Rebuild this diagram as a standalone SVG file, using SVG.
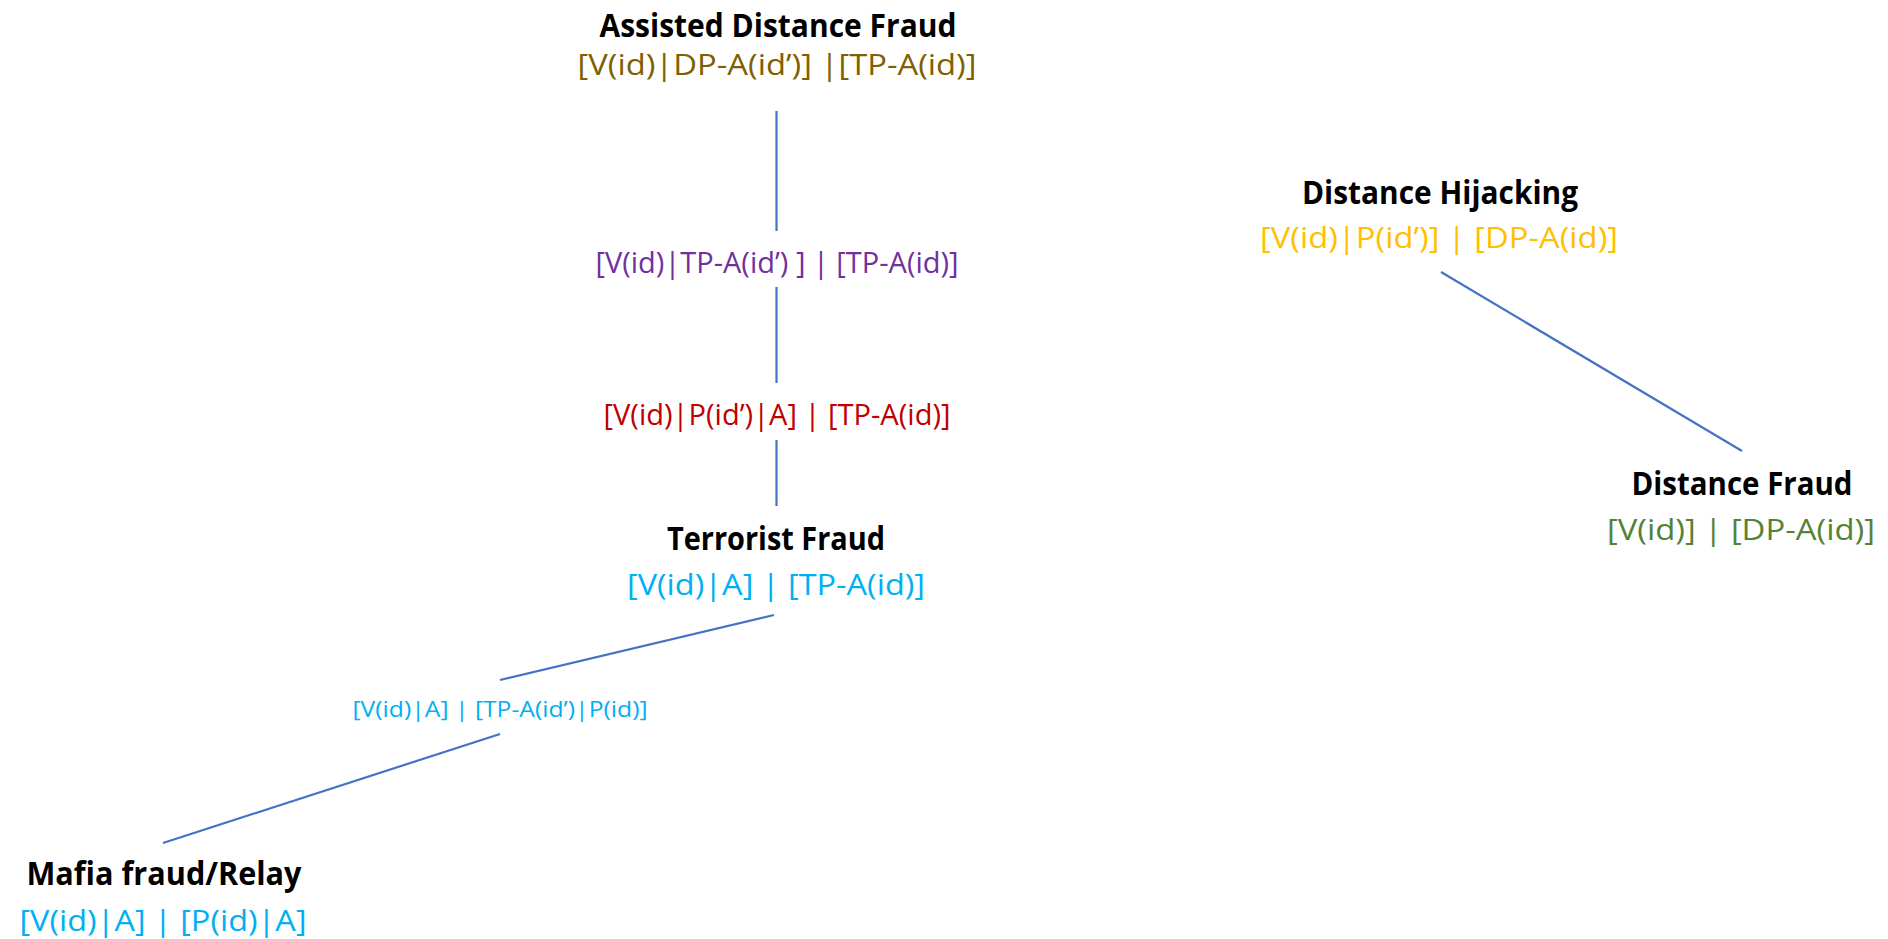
<svg xmlns="http://www.w3.org/2000/svg" width="1888" height="939" viewBox="0 0 1888 939">
<style>
text{font-family:"Open Sans","Liberation Sans",sans-serif;text-anchor:middle}
.t{font-weight:bold;font-size:32px;fill:#000}
.l{font-size:30px}
.s{font-size:22px}
.c line{stroke:#4472C4;stroke-width:2.2}
</style>
<rect width="1888" height="939" fill="#fff"/>
<g class="c" id="connectors">
<line x1="776.5" y1="111" x2="776.5" y2="231"/>
<line x1="776.5" y1="287" x2="776.5" y2="383"/>
<line x1="776.5" y1="440" x2="776.5" y2="506"/>
<line x1="774" y1="615" x2="500" y2="680"/>
<line x1="500" y1="734" x2="163" y2="843"/>
<line x1="1441" y1="272" x2="1742" y2="451"/>
</g>
<g id="assisted-distance-fraud">
<text class="t" x="778" y="37" textLength="357" lengthAdjust="spacingAndGlyphs">Assisted Distance Fraud</text>
<text class="l" x="777" y="75" fill="#7F6000" textLength="399" lengthAdjust="spacingAndGlyphs">[V(id)|DP-A(id’)] |[TP-A(id)]</text>
</g>
<g id="label-purple">
<text class="l" x="777" y="273" fill="#7030A0" textLength="363" lengthAdjust="spacingAndGlyphs">[V(id)|TP-A(id’) ] | [TP-A(id)]</text>
</g>
<g id="label-red">
<text class="l" x="777" y="425" fill="#C00000" textLength="347" lengthAdjust="spacingAndGlyphs">[V(id)|P(id’)|A] | [TP-A(id)]</text>
</g>
<g id="terrorist-fraud">
<text class="t" x="776" y="550" textLength="218" lengthAdjust="spacingAndGlyphs">Terrorist Fraud</text>
<text class="l" x="776" y="595" fill="#00B0F0" textLength="298" lengthAdjust="spacingAndGlyphs">[V(id)|A] | [TP-A(id)]</text>
</g>
<g id="label-small">
<text class="s" x="500" y="717" fill="#00B0F0" textLength="295" lengthAdjust="spacingAndGlyphs">[V(id)|A] | [TP-A(id’)|P(id)]</text>
</g>
<g id="mafia-fraud">
<text class="t" x="164" y="885" textLength="275" lengthAdjust="spacingAndGlyphs">Mafia fraud/Relay</text>
<text class="l" x="163" y="931" fill="#00B0F0" textLength="287" lengthAdjust="spacingAndGlyphs">[V(id)|A] | [P(id)|A]</text>
</g>
<g id="distance-hijacking">
<text class="t" x="1440" y="204" textLength="276" lengthAdjust="spacingAndGlyphs">Distance Hijacking</text>
<text class="l" x="1439" y="248" fill="#FFC000" textLength="358" lengthAdjust="spacingAndGlyphs">[V(id)|P(id’)] | [DP-A(id)]</text>
</g>
<g id="distance-fraud">
<text class="t" x="1742" y="495" textLength="221" lengthAdjust="spacingAndGlyphs">Distance Fraud</text>
<text class="l" x="1741" y="540" fill="#548235" textLength="268" lengthAdjust="spacingAndGlyphs">[V(id)] | [DP-A(id)]</text>
</g>
</svg>
